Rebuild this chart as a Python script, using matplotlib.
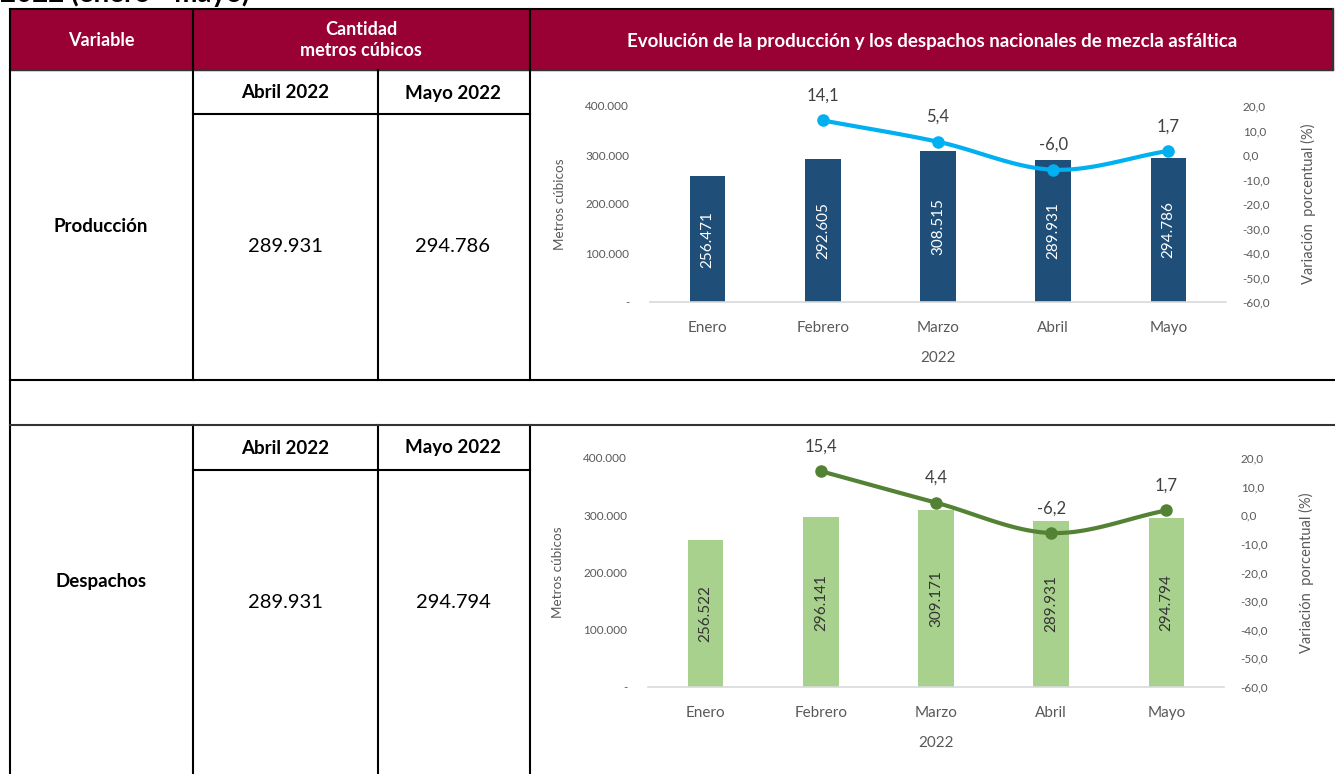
import numpy as np
import matplotlib
matplotlib.use("Agg")
from matplotlib import pyplot as plt
from matplotlib.ticker import FuncFormatter

plt.rcParams['font.family'] = ['Lato', 'DejaVu Sans']

# Data
meses = ["Enero", "Febrero", "Marzo", "Abril", "Mayo"]
produccion = [256471, 292605, 308515, 289931, 294786]
despachos = [256522, 296141, 309171, 289931, 294794]
var_produccion = [None, 14.1, 5.4, -6.0, 1.7]
var_despachos = [None, 15.4, 4.4, -6.2, 1.7]

filas = ["Producción", "Despachos"]
periodos = ["Abril 2022", "Mayo 2022"]
tabla_valores = [["289.931", "294.786"], ["289.931", "294.794"]]

titulo_grafico = "Evolución de la producción y los despachos nacionales de mezcla asfáltica"

W, H = 1335, 774
HEADER = "#990033"
GRIS = "#595959"


def miles(v, pos=None):
    if v == 0:
        return "-"
    return "{:,.0f}".format(v).replace(",", ".")


def coma(v, pos=None):
    return "{:.1f}".format(v).replace(".", ",")


def smooth(xs, ys, n=40):
    '''
    Catmull-Rom curve through the points, like Excel's smoothed line
    '''
    xs = np.asarray(xs, float)
    ys = np.asarray(ys, float)
    px = np.concatenate([[2 * xs[0] - xs[1]], xs, [2 * xs[-1] - xs[-2]]])
    py = np.concatenate([[2 * ys[0] - ys[1]], ys, [2 * ys[-1] - ys[-2]]])
    outx, outy = [], []
    t = np.linspace(0, 1, n)
    for i in range(1, len(px) - 2):
        for p, out in ((px, outx), (py, outy)):
            p0, p1, p2, p3 = p[i - 1], p[i], p[i + 1], p[i + 2]
            out.extend(0.5 * ((2 * p1) + (-p0 + p2) * t
                              + (2 * p0 - 5 * p1 + 4 * p2 - p3) * t ** 2
                              + (-p0 + 3 * p1 - 3 * p2 + p3) * t ** 3))
    return outx, outy


def fig_rect(x0, y0, x1, y1):
    return [x0 / W, 1 - y1 / H, (x1 - x0) / W, (y1 - y0) / H]


fig = plt.figure(figsize=(W / 100, H / 100), dpi=100)
fig.patch.set_facecolor("white")

# Table layer in pixel coordinates
tab = fig.add_axes([0, 0, 1, 1])
tab.set_xlim(0, W)
tab.set_ylim(H, 0)
tab.axis("off")

tab.text(0, 2, "2022 (enero - mayo)", fontsize=20, fontweight="bold",
         ha="left", va="baseline")

tab.add_patch(plt.Rectangle((10, 9), 1323, 61, color=HEADER, zorder=1))
lw = 1.5
tab.plot([10, 1333], [9, 9], color="black", lw=lw)
tab.plot([10, 1333], [70, 70], color="#333333", lw=lw)
tab.plot([1333, 1333], [9, 70], color="#333333", lw=lw)
tab.plot([10, 10], [9, H], color="black", lw=lw)
for x in (193, 530):
    tab.plot([x, x], [9, 380], color="black", lw=lw)
    tab.plot([x, x], [425, H], color="black", lw=lw)
tab.plot([378, 378], [70, 380], color="black", lw=lw)
tab.plot([378, 378], [425, H], color="black", lw=lw)
tab.plot([193, 530], [114, 114], color="black", lw=lw)
tab.plot([193, 530], [470, 470], color="black", lw=lw)
tab.plot([10, W], [380, 380], color="black", lw=lw)
tab.plot([10, W], [425, 425], color="#333333", lw=lw)

tab.text(101, 41, "Variable", color="white", fontsize=13, fontweight="bold",
         ha="center", va="center")
tab.text(361, 40, "Cantidad\nmetros cúbicos", color="white", fontsize=13,
         fontweight="bold", ha="center", va="center", linespacing=1.35)
tab.text(932, 41, titulo_grafico, color="white", fontsize=13.5,
         fontweight="bold", ha="center", va="center")

for r, top in enumerate((70, 425)):
    tab.text(285, top + 23, periodos[0], fontsize=13.5, fontweight="bold",
             ha="center", va="center")
    tab.text(453, top + 23, periodos[1], fontsize=13.5, fontweight="bold",
             ha="center", va="center")
    tab.text(101, top + 156, filas[r], fontsize=13.5, fontweight="bold",
             ha="center", va="center")
    tab.text(285, top + 177, tabla_valores[r][0], fontsize=14.5,
             ha="center", va="center")
    tab.text(453, top + 177, tabla_valores[r][1], fontsize=14.5,
             ha="center", va="center")


def chart(rect, valores, variacion, bar_color, line_color, label_color):
    ax = fig.add_axes(rect)
    x = np.arange(len(meses))
    ax.bar(x, valores, width=0.31, color=bar_color, zorder=2)
    ax.set_xlim(-0.5, len(meses) - 0.5)
    ax.set_ylim(0, 400000)
    ax.set_yticks(np.arange(0, 400001, 100000))
    ax.yaxis.set_major_formatter(FuncFormatter(miles))
    ax.set_xticks(x)
    ax.set_xticklabels(meses)
    ax.tick_params(axis="x", length=0, pad=14, labelsize=11, labelcolor=GRIS)
    ax.tick_params(axis="y", length=0, pad=15, labelsize=8.5, labelcolor=GRIS)
    for s in ("top", "right", "left"):
        ax.spines[s].set_visible(False)
    ax.spines["bottom"].set_color("#D9D9D9")
    ax.spines["bottom"].set_linewidth(1.2)
    ax.set_ylabel("Metros cúbicos", fontsize=9.7, color=GRIS, labelpad=14)
    ax.set_xlabel("2022", fontsize=11, color=GRIS, labelpad=11)
    for xi, v in zip(x, valores):
        ax.text(xi, v / 2, miles(v), rotation=90, ha="center", va="center",
                fontsize=11, color=label_color, zorder=3)

    ax2 = ax.twinx()
    ax2.set_ylim(-60, 20)
    ax2.set_yticks(np.arange(-60, 21, 10))
    ax2.yaxis.set_major_formatter(FuncFormatter(coma))
    ax2.tick_params(axis="y", length=0, pad=12, labelsize=8.5, labelcolor=GRIS)
    for s in ax2.spines.values():
        s.set_visible(False)
    ax2.set_ylabel("Variación  porcentual (%)", fontsize=10.5, color=GRIS,
                   labelpad=22)
    vx = [xi for xi, v in zip(x, variacion) if v is not None]
    vy = [v for v in variacion if v is not None]
    sx, sy = smooth(vx, vy)
    ax2.plot(sx, sy, color=line_color, lw=3, solid_capstyle="round", zorder=4)
    ax2.plot(vx, vy, "o", color=line_color, ms=8, zorder=5)
    for xi, v in zip(vx, vy):
        ax2.annotate(coma(v), (xi, v), xytext=(0, 12), textcoords="offset points",
                     ha="center", va="bottom", fontsize=12, color="#404040")
    return ax


chart(fig_rect(650, 106, 1226, 302), produccion, var_produccion,
      "#1F4E79", "#00B0F0", "white")
chart(fig_rect(648, 458, 1224, 687), despachos, var_despachos,
      "#A9D18E", "#548235", "#333333")

plt.savefig("out.png", dpi=100)
